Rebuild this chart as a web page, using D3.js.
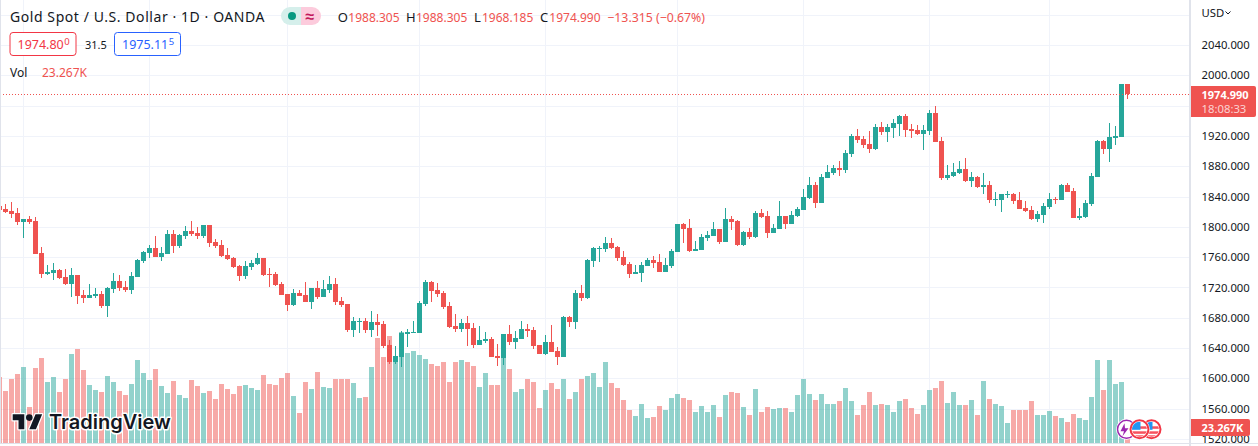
<!doctype html>
<html>
<head>
<meta charset="utf-8"/>
<title>Gold Spot / U.S. Dollar</title>
<script src="https://d3js.org/d3.v7.min.js"></script>
<style>
  html, body { margin:0; padding:0; background:#fff; overflow:hidden; }
  text { font-family:"Noto Sans", sans-serif; }
</style>
</head>
<body>
<script>
// daily candles, oldest first (in USD)
var opens = [1827.5,
 1823.5,1820.9,1818.2,1806.4,1810.3,1807.7,1765.4,1737.7,1739.0,
 1743.0,1733.8,1724.5,1736.4,1710.0,1706.0,1708.7,1711.3,1695.5,1717.9,
 1728.5,1720.6,1716.6,1733.8,1754.9,1765.4,1772.0,1760.2,1764.1,1790.5,
 1774.7,1787.9,1794.5,1791.8,1787.9,1802.4,1780.0,1776.0,1762.8,1758.8,
 1748.3,1735.1,1747.0,1750.9,1758.8,1737.7,1737.7,1724.5,1711.3,1696.8,
 1712.6,1710.0,1700.8,1719.2,1707.4,1716.6,1724.5,1702.1,1698.1,1663.8,
 1674.4,1675.7,1663.8,1674.4,1671.7,1644.0,1621.6,1628.2,1658.5,1659.8,
 1659.8,1698.1,1727.2,1716.6,1712.6,1695.5,1669.1,1665.1,1673.0,1666.4,
 1644.0,1649.3,1651.9,1629.5,1626.8,1658.5,1648.0,1651.9,1665.1,1663.8,
 1644.0,1632.1,1648.0,1636.1,1628.2,1681.0,1674.4,1712.6,1706.0,1754.9,
 1770.7,1770.7,1778.6,1773.4,1760.2,1750.9,1737.7,1739.0,1748.3,1756.2,
 1753.6,1740.4,1748.3,1766.8,1803.7,1798.4,1768.1,1769.4,1785.2,1787.9,
 1797.1,1780.0,1810.3,1807.7,1776.0,1793.2,1786.6,1818.2,1814.3,1791.8,
 1797.1,1814.3,1803.7,1814.3,1822.2,1838.0,1855.2,1831.4,1864.4,1871.0,
 1877.6,1875.0,1896.1,1919.9,1915.9,1909.3,1902.7,1931.8,1925.2,1930.4,
 1935.7,1946.3,1929.1,1927.8,1922.5,1926.5,1950.2,1913.3,1864.4,1867.1,
 1871.0,1876.3,1860.5,1865.8,1852.6,1855.2,1835.4,1835.4,1842.0,1843.3,
 1835.4,1824.8,1822.2,1810.3,1815.6,1826.2,1836.7,1835.4,1855.2,1847.3,
 1811.6,1813.0,1830.1,1865.8,1913.3,1902.7,1917.2,1918.6,1988.305];
var highs = [1827.5,
 1830.1,1832.8,1824.8,1810.3,1814.3,1813.0,1773.4,1749.6,1752.2,
 1744.3,1744.3,1745.6,1736.4,1716.6,1724.5,1719.2,1715.3,1720.6,1739.0,
 1736.4,1728.5,1740.4,1757.5,1768.1,1776.0,1787.9,1773.4,1795.8,1795.8,
 1790.5,1801.1,1807.7,1799.8,1802.4,1802.4,1783.9,1782.6,1772.0,1760.2,
 1749.6,1754.9,1756.2,1765.4,1758.8,1745.6,1740.4,1727.2,1711.3,1717.9,
 1716.6,1727.2,1719.2,1728.5,1729.8,1735.1,1732.4,1707.4,1698.1,1681.0,
 1679.6,1679.6,1688.9,1684.9,1675.7,1650.6,1642.7,1662.5,1665.1,1675.7,
 1702.1,1729.8,1728.5,1725.8,1715.3,1700.8,1684.9,1678.3,1682.3,1673.0,
 1669.1,1661.2,1654.6,1645.3,1658.5,1670.4,1662.5,1675.7,1671.7,1667.8,
 1644.0,1657.2,1670.4,1641.4,1682.3,1682.3,1716.6,1723.2,1757.5,1773.4,
 1774.7,1786.6,1785.2,1774.7,1768.1,1753.6,1749.6,1753.6,1758.8,1761.5,
 1764.1,1758.8,1770.7,1803.7,1805.0,1810.3,1781.3,1790.5,1794.5,1806.4,
 1797.1,1824.8,1814.3,1809.0,1794.5,1798.4,1820.9,1823.5,1820.9,1803.7,
 1834.1,1814.3,1820.9,1826.2,1849.9,1865.8,1859.2,1869.7,1881.6,1881.6,
 1886.9,1901.4,1922.5,1929.1,1919.9,1926.5,1935.7,1938.4,1935.7,1942.3,
 1947.6,1948.9,1935.7,1934.4,1934.4,1954.2,1959.5,1918.6,1881.6,1884.2,
 1886.9,1890.8,1872.4,1867.1,1871.0,1860.5,1846.0,1843.3,1847.3,1844.6,
 1846.0,1834.1,1827.5,1820.9,1831.4,1844.6,1839.4,1856.5,1857.8,1851.2,
 1824.8,1835.4,1871.0,1914.6,1914.6,1937.0,1933.1,1988.5,1988.305];
var lows = [1822.2,
 1818.2,1811.6,1802.4,1785.2,1803.7,1764.1,1732.4,1736.4,1729.8,
 1731.1,1723.2,1707.4,1698.1,1699.4,1706.0,1706.0,1692.8,1681.0,1712.6,
 1715.3,1714.0,1711.3,1733.8,1752.2,1758.8,1760.2,1754.9,1764.1,1765.4,
 1772.0,1783.9,1787.9,1783.9,1785.2,1773.4,1772.0,1760.2,1756.2,1745.6,
 1728.5,1731.1,1743.0,1749.6,1735.1,1720.6,1721.9,1710.0,1688.9,1695.5,
 1708.7,1700.3,1691.5,1704.7,1707.4,1712.6,1696.8,1694.2,1661.2,1654.6,
 1659.8,1659.8,1654.6,1655.9,1640.0,1618.9,1618.9,1615.0,1641.4,1659.8,
 1659.8,1695.5,1700.8,1707.4,1691.5,1666.4,1661.2,1661.2,1642.7,1640.0,
 1644.0,1646.6,1628.2,1616.3,1617.6,1644.0,1638.7,1651.9,1654.6,1638.7,
 1632.1,1630.8,1634.8,1617.6,1628.2,1667.8,1665.1,1702.1,1704.7,1747.0,
 1753.6,1766.8,1770.7,1754.9,1748.3,1732.4,1737.7,1727.2,1748.3,1745.6,
 1740.4,1740.4,1745.6,1766.8,1778.6,1766.8,1768.1,1769.4,1781.3,1787.9,
 1777.3,1780.0,1795.8,1774.7,1774.7,1783.9,1785.2,1811.6,1785.2,1791.8,
 1797.1,1797.1,1803.7,1813.0,1822.2,1836.7,1824.8,1831.4,1864.4,1868.4,
 1867.1,1871.0,1892.2,1910.6,1904.0,1897.4,1901.4,1921.2,1912.0,1917.2,
 1919.9,1918.6,1917.2,1921.2,1901.4,1921.2,1912.0,1861.8,1861.8,1865.8,
 1869.7,1859.2,1852.6,1851.2,1843.3,1831.4,1827.5,1819.6,1838.0,1830.1,
 1823.5,1819.6,1809.0,1806.4,1805.0,1823.5,1830.1,1835.4,1846.0,1811.6,
 1809.0,1811.6,1827.5,1865.8,1896.1,1885.6,1908.0,1918.6,1968.185];
var closes = [1822.2,
 1819.6,1816.9,1806.4,1810.3,1806.4,1764.1,1737.7,1740.4,1743.0,
 1732.4,1724.5,1736.4,1708.7,1706.0,1710.0,1711.3,1695.5,1719.2,1728.5,
 1719.2,1716.6,1735.1,1756.2,1766.8,1772.0,1760.2,1765.4,1790.5,1774.7,
 1789.2,1794.5,1790.5,1787.9,1802.4,1778.6,1774.7,1761.5,1757.5,1747.0,
 1735.1,1748.3,1752.2,1758.8,1736.4,1736.4,1723.2,1710.0,1696.8,1712.6,
 1708.7,1700.8,1719.2,1707.4,1717.9,1724.5,1700.8,1696.8,1663.8,1675.7,
 1675.7,1663.8,1674.4,1670.4,1642.7,1621.6,1629.5,1660.3,1661.2,1661.2,
 1699.4,1727.2,1715.3,1711.3,1694.2,1667.8,1665.1,1673.0,1665.1,1644.0,
 1650.6,1651.9,1628.2,1626.8,1658.5,1648.0,1653.2,1665.1,1662.5,1642.7,
 1632.1,1648.0,1634.8,1628.2,1681.0,1674.4,1712.6,1706.0,1756.2,1772.0,
 1772.0,1778.6,1772.0,1758.8,1749.6,1737.7,1740.4,1749.6,1756.2,1752.2,
 1740.4,1749.6,1768.1,1803.7,1797.1,1768.1,1770.7,1786.6,1789.2,1797.1,
 1780.0,1810.3,1806.4,1776.0,1793.2,1786.6,1818.2,1813.0,1791.8,1798.4,
 1814.3,1803.7,1815.6,1823.5,1839.4,1855.2,1831.4,1865.8,1872.4,1877.6,
 1875.0,1897.4,1919.9,1914.6,1908.0,1902.7,1931.8,1925.2,1931.8,1937.0,
 1946.3,1927.8,1926.5,1922.5,1927.8,1950.2,1912.0,1864.4,1868.4,1872.4,
 1876.3,1860.5,1865.8,1852.6,1855.2,1835.4,1836.7,1843.3,1843.3,1834.1,
 1823.5,1820.9,1810.3,1816.9,1827.5,1836.7,1835.4,1855.2,1846.0,1811.6,
 1814.3,1831.4,1867.1,1913.3,1902.7,1918.6,1919.9,1988.5,1974.99];
// volume in thousands
var volumes = [102.4,
 80.7,99.3,107.0,117.9,55.8,116.3,131.8,94.6,102.4,
 79.1,99.3,138.0,145.8,113.2,90.0,82.2,79.1,103.9,94.6,
 80.7,74.4,91.5,128.7,108.6,97.7,114.8,88.4,77.6,96.2,
 74.4,69.8,97.7,88.4,77.6,80.7,68.2,91.5,83.8,76.0,
 88.4,90.0,85.3,82.2,105.5,91.5,90.0,100.8,108.6,72.9,
 46.5,94.6,83.8,110.1,86.9,85.3,99.3,99.3,99.3,93.1,
 69.8,71.3,117.9,162.9,133.4,166.0,125.6,172.2,139.6,142.7,
 136.5,130.3,122.5,119.4,125.6,94.6,125.6,128.7,125.6,119.4,
 86.9,108.6,90.0,90.0,133.9,114.8,79.1,83.8,99.3,94.6,
 54.3,82.2,93.1,83.8,99.3,68.2,79.1,99.3,103.9,108.6,
 86.9,125.6,93.1,85.3,66.7,51.2,41.9,60.5,38.8,40.3,
 57.4,51.2,69.8,76.0,69.8,66.7,48.1,57.4,48.1,58.9,
 40.3,74.4,79.1,77.6,55.8,43.4,83.8,48.1,55.8,52.7,
 54.3,54.3,48.1,74.4,99.3,76.0,66.7,76.0,60.5,60.5,
 65.1,85.3,65.1,43.4,58.9,79.1,58.9,60.5,58.9,48.1,
 65.1,68.2,54.3,45.0,58.9,82.2,85.3,96.2,62.0,79.1,
 58.9,58.9,66.7,43.4,96.2,68.2,60.5,57.4,31.0,51.2,
 51.2,51.2,65.1,43.4,43.4,49.6,41.9,38.8,32.6,45.0,
 38.8,35.7,71.3,128.7,82.2,128.7,91.5,94.6,23.267];
var priceTicks = [2040,2000,1920,1880,1840,1800,1760,1720,1680,1640,1600,1560,1520];
var priceGrid = [2080,2040,2000,1960,1920,1880,1840,1800,1760,1720,1680,1640,1600,1560,1520];
var timeGrid = [4,25,48,70,91,113,134,155,175];
var lastPrice = 1974.99;
var eventDays = [188,192,190];
var ohlcLabels = [["O","1988.305",337.7,348.3],["H","1988.305",406,416],["L","1968.185",474,482],["C","1974.990",540,549.3]];

var W = 1258, H = 446, UP = "#26a69a", DOWN = "#ef5350", INK = "#131722", GRID = "#f0f3fa", EDGE = "#e0e3eb";
var AXIS_FONT = 11.3;

var svg = d3.select("body").append("svg").attr("width", W).attr("height", H).style("display","block");

var x = d3.scaleLinear().domain([0,188]).range([-0.5,1127.5]);
var y = d3.scaleLinear().domain([2000,1600]).range([75.3,378.3]);
var yVol = d3.scaleLinear().domain([0,100]).range([443,378.5]);

svg.append("clipPath").attr("id","pane").append("rect").attr("width",1189).attr("height",443);
var pane = svg.append("g").attr("clip-path","url(#pane)");

// grid
pane.selectAll("line.h").data(priceGrid).join("line").attr("class","h")
  .attr("x1",0).attr("x2",1190)
  .attr("y1",function(d){return Math.round(y(d))+0.5;}).attr("y2",function(d){return Math.round(y(d))+0.5;})
  .attr("stroke",GRID);
pane.selectAll("line.v").data(timeGrid).join("line").attr("class","v")
  .attr("y1",0).attr("y2",443)
  .attr("x1",function(d){return Math.floor(x(d))+0.5;}).attr("x2",function(d){return Math.floor(x(d))+0.5;})
  .attr("stroke",GRID);

function isUp(i){ return closes[i] >= opens[i]; }
var days = d3.range(opens.length);

// volume behind the candles
pane.selectAll("rect.vol").data(days).join("rect").attr("class","vol")
  .attr("x",function(i){return Math.floor(x(i))-2;})
  .attr("width",5)
  .attr("y",function(i){return Math.round(yVol(volumes[i]));})
  .attr("height",function(i){return 443-Math.round(yVol(volumes[i]));})
  .attr("fill",function(i){return isUp(i)?UP:DOWN;})
  .attr("fill-opacity",0.5);

// wicks
pane.selectAll("rect.wick").data(days).join("rect").attr("class","wick")
  .attr("x",function(i){return Math.floor(x(i));})
  .attr("width",1)
  .attr("y",function(i){return Math.round(y(highs[i]));})
  .attr("height",function(i){return Math.max(1,Math.round(y(lows[i]))-Math.round(y(highs[i])));})
  .attr("fill",function(i){return isUp(i)?UP:DOWN;});

// bodies
pane.selectAll("rect.body").data(days).join("rect").attr("class","body")
  .attr("x",function(i){return Math.floor(x(i))-2;})
  .attr("width",5)
  .attr("y",function(i){return Math.round(y(Math.max(opens[i],closes[i])));})
  .attr("height",function(i){return Math.max(1,Math.round(y(Math.min(opens[i],closes[i])))-Math.round(y(Math.max(opens[i],closes[i]))));})
  .attr("fill",function(i){return isUp(i)?UP:DOWN;});

// last price line
svg.append("line").attr("x1",0).attr("x2",1190)
  .attr("y1",Math.round(y(lastPrice))+0.5).attr("y2",Math.round(y(lastPrice))+0.5)
  .attr("stroke",DOWN).attr("stroke-dasharray","1 2");

// frame
svg.append("rect").attr("x",0).attr("y",0).attr("width",1).attr("height",444).attr("fill",EDGE);
svg.append("rect").attr("x",0).attr("y",443).attr("width",W).attr("height",1).attr("fill",EDGE);
svg.append("rect").attr("x",1189).attr("y",0).attr("width",2).attr("height",446).attr("fill",EDGE);

// price axis
var axis = d3.axisRight(y).tickValues(priceTicks).tickFormat(d3.format(".3f")).tickSize(0).tickPadding(0);
var gAxis = svg.append("g").attr("transform","translate(1201.5,0)").call(axis);
gAxis.select(".domain").remove();
gAxis.selectAll("text").attr("fill",INK).style("font-size",AXIS_FONT+"px").style("font-family",'"Noto Sans", sans-serif');

svg.append("text").attr("x",1201.5).attr("y",16.5).attr("font-size",AXIS_FONT).attr("fill",INK).text("USD");
svg.append("path").attr("d","M1225.5 11.5l2.5 2.5 2.5-2.5").attr("fill","none").attr("stroke",INK);

// last price label
svg.append("path").attr("d","M1191 86h63a2 2 0 0 1 2 2v27a2 2 0 0 1-2 2h-63z").attr("fill",DOWN);
svg.append("text").attr("x",1201.5).attr("y",98.5).attr("font-size",11).attr("font-weight",700).attr("fill","#fff").text(d3.format(".3f")(lastPrice));
svg.append("text").attr("x",1201.5).attr("y",113).attr("font-size",AXIS_FONT).attr("fill","#fff").attr("fill-opacity",0.75).text("18:08:33");

// volume label
svg.append("path").attr("d","M1191 419h57a2 2 0 0 1 2 2v13a2 2 0 0 1-2 2h-57z").attr("fill",DOWN);
svg.append("text").attr("x",1201.5).attr("y",431.5).attr("font-size",11).attr("font-weight",700).attr("fill","#fff").text(d3.format(".3f")(volumes[volumes.length-1])+"K");

// header
svg.append("text").attr("x",10).attr("y",22).attr("font-size",14).attr("letter-spacing",0.57).attr("fill",INK).text("Gold Spot / U.S. Dollar · 1D · OANDA");
svg.append("path").attr("d","M301 7h-11a9 9 0 0 0 0 18h11z").attr("fill","#d5efeb");
svg.append("path").attr("d","M301 7h11a9 9 0 0 1 0 18h-11z").attr("fill","#fccbdc");
svg.append("circle").attr("cx",292).attr("cy",16).attr("r",4).attr("fill","#089981");
svg.append("text").attr("x",310).attr("y",21.5).attr("text-anchor","middle").attr("font-size",16).attr("font-weight",700).attr("fill","#c2185b").text("≈");

ohlcLabels.forEach(function(d){
  svg.append("text").attr("x",d[2]).attr("y",22).attr("font-size",13).attr("fill",INK).text(d[0]);
  svg.append("text").attr("x",d[3]).attr("y",22).attr("font-size",12).attr("fill",DOWN).text(d[1]);
});
svg.append("text").attr("x",607.3).attr("y",22).attr("font-size",12.3).attr("fill",DOWN).text("−13.315 (−0.67%)");

function quoteBox(x0,col,main,small){
  svg.append("rect").attr("x",x0+0.5).attr("y",32.5).attr("width",66).attr("height",23).attr("rx",3).attr("fill","#fff").attr("stroke",col);
  var t = svg.append("text").attr("x",x0+8).attr("y",49).attr("font-size",12.5).attr("fill",col);
  t.append("tspan").text(main);
  t.append("tspan").attr("font-size",9.5).attr("dy",-4).attr("dx",0.5).text(small);
}
quoteBox(9.5,"#f23645","1974.80","0");
svg.append("text").attr("x",85).attr("y",49).attr("font-size",11).attr("fill",INK).text("31.5");
quoteBox(114,"#2962ff","1975.11","5");

svg.append("text").attr("x",10).attr("y",77).attr("font-size",12).attr("fill",INK).text("Vol");
svg.append("text").attr("x",42).attr("y",77).attr("font-size",12).attr("fill",DOWN).text("23.267K");

// logo
var logo = svg.append("g");
logo.append("path").attr("transform","translate(12.7,411) scale(0.83)")
  .attr("d","M14 22H7V11H0V4h14v18zM28 22h-8l7.5-18h8L28 22z")
  .attr("fill",INK).attr("stroke","#fff").attr("stroke-width",3).attr("paint-order","stroke").attr("stroke-linejoin","round");
logo.append("circle").attr("cx",29.3).attr("cy",417.6).attr("r",3.3).attr("fill",INK);
logo.append("text").attr("x",49).attr("y",428.5).attr("font-size",20).attr("font-weight",600)
  .style("font-family","Inter, sans-serif").attr("fill",INK)
  .attr("stroke","#fff").attr("stroke-width",3).attr("paint-order","stroke").attr("stroke-linejoin","round")
  .text("TradingView");

// event markers
var defs = svg.append("defs");
defs.append("clipPath").attr("id","flagclip").append("circle").attr("r",7.5);
eventDays.forEach(function(day,n){
  var g = svg.append("g").attr("transform","translate("+(x(day)-(n==0?1:0))+",429.3)");
  g.append("circle").attr("r",10.5).attr("fill","#fff");
  if(n==0){
    g.append("circle").attr("r",9).attr("fill","#fff").attr("stroke","#9c27b0").attr("stroke-width",1.5);
    g.append("path").attr("d","M-2 -6L-6 2h3.5L-4 7 2 -1h-3.5z").attr("fill","#9c27b0");
  } else {
    g.append("circle").attr("r",9).attr("fill","#fff").attr("stroke","#f23645").attr("stroke-width",2);
    var f = g.append("g").attr("clip-path","url(#flagclip)");
    f.append("rect").attr("x",-8).attr("y",-8).attr("width",16).attr("height",16).attr("fill","#fff");
    f.append("rect").attr("x",-8).attr("y",-3).attr("width",16).attr("height",2.5).attr("fill","#f7525f");
    f.append("rect").attr("x",-8).attr("y",2).attr("width",16).attr("height",2.5).attr("fill","#f7525f");
    f.append("rect").attr("x",-8).attr("y",6).attr("width",16).attr("height",2.5).attr("fill","#f7525f");
    f.append("rect").attr("x",-8).attr("y",-8).attr("width",9).attr("height",8.5).attr("fill","#2196f3");
  }
});
</script>
</body>
</html>
